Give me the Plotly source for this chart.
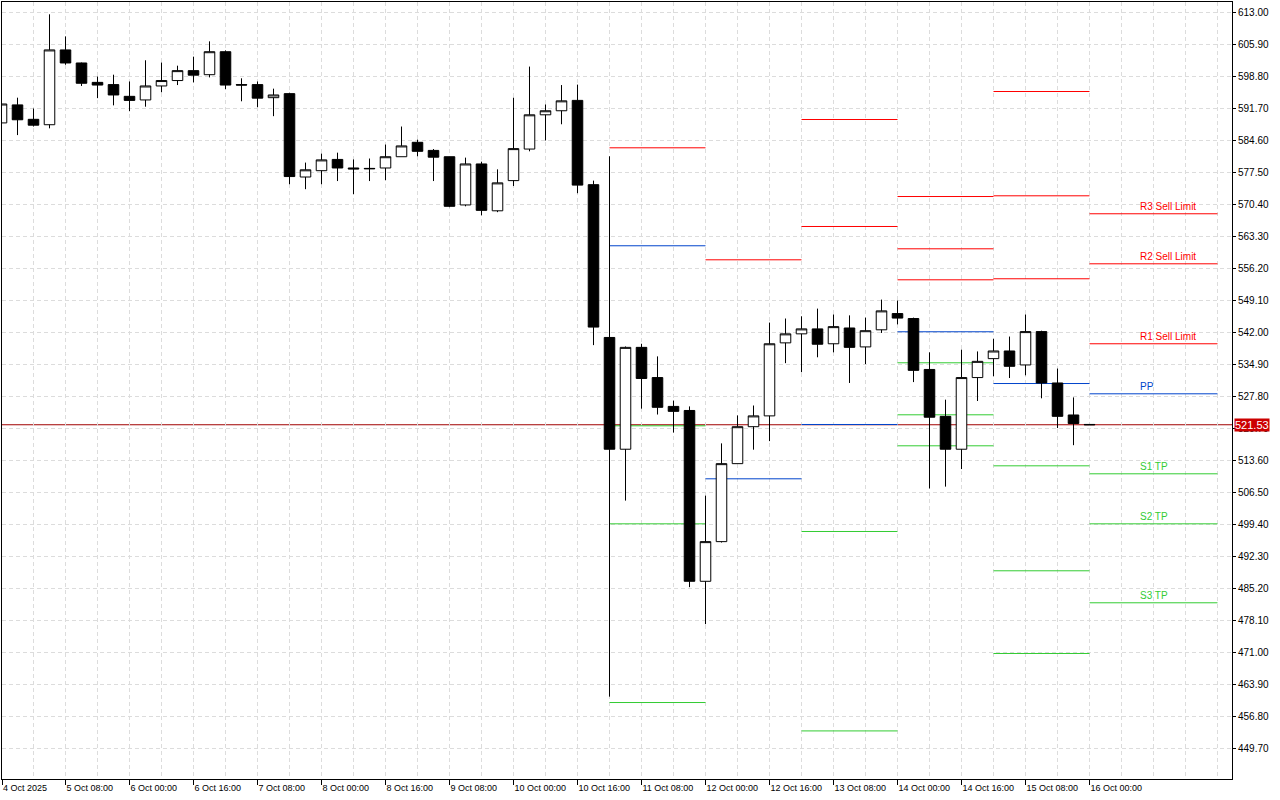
import plotly.graph_objects as go
import pandas as pd

# ---------------- data (4-hour candles) ----------------
first_bar = "2025-10-04 16:00"
opens = [588.5, 592.5, 589.3, 588.1, 604.7, 601.8, 597.5, 597.0, 594.4, 593.6,
         596.7, 597.9, 600.1, 599.2, 604.3, 597.0, 597.0, 594.1, 595.0, 576.5,
         577.9, 580.4, 578.5, 578.3, 578.5, 581.0, 584.2, 582.4, 581.0, 570.3,
         579.4, 569.0, 575.7, 582.7, 590.3, 591.2, 593.5, 574.8, 540.9, 516.1,
         538.7, 532.0, 525.6, 524.7, 486.8, 495.6, 512.9, 521.1, 523.5, 539.7,
         541.7, 542.8, 539.5, 543.0, 538.8, 542.6, 546.2, 545.1, 533.8, 523.4,
         516.1, 532.0, 536.2, 537.9, 534.8, 542.2, 530.8, 523.7, 521.6]
highs = [593.6, 594.1, 591.7, 612.6, 607.7, 601.9, 598.8, 599.2, 597.7, 602.4,
         601.9, 601.2, 603.2, 606.6, 604.6, 598.4, 597.7, 596.1, 595.2, 579.7,
         581.7, 581.9, 580.4, 580.6, 583.7, 587.7, 584.8, 582.7, 581.0, 580.8,
         579.9, 578.2, 594.1, 601.0, 592.6, 596.9, 597.0, 575.7, 581.1, 538.9,
         539.5, 536.7, 526.9, 525.6, 505.8, 517.4, 523.6, 525.8, 544.2, 545.1,
         545.6, 547.3, 546.0, 545.8, 545.3, 549.3, 549.1, 545.3, 537.6, 527.1,
         538.2, 537.8, 540.6, 541.1, 546.0, 542.4, 534.0, 527.6, 521.7]
lows = [587.9, 585.8, 587.7, 587.3, 601.4, 596.7, 594.0, 592.4, 591.1, 592.1,
        595.3, 596.9, 597.5, 598.6, 596.0, 593.3, 592.0, 590.0, 574.9, 573.8,
        574.9, 575.6, 572.7, 575.6, 575.8, 581.0, 581.1, 575.6, 569.8, 570.0,
        568.0, 568.7, 574.5, 582.2, 584.6, 588.2, 572.9, 539.2, 461.2, 504.7,
        525.1, 523.8, 519.8, 485.5, 477.3, 495.4, 512.9, 516.0, 517.9, 535.2,
        533.2, 536.5, 537.6, 530.8, 535.0, 541.9, 543.8, 531.0, 507.4, 507.8,
        511.7, 526.8, 532.3, 531.9, 532.5, 527.4, 520.8, 517.0, 521.5]
closes = [592.7, 589.2, 588.0, 604.7, 601.8, 597.3, 596.9, 594.7, 593.5, 596.7,
          597.9, 600.1, 599.1, 604.3, 596.9, 596.9, 594.0, 594.7, 576.6, 578.1,
          580.3, 578.5, 578.3, 578.4, 581.0, 583.4, 582.2, 580.9, 570.0, 579.4,
          569.1, 575.2, 582.8, 590.3, 591.2, 593.4, 574.7, 543.2, 516.1, 538.7,
          531.8, 525.4, 524.5, 486.8, 495.6, 512.9, 521.1, 523.5, 539.5, 541.7,
          542.8, 539.4, 543.3, 538.7, 542.4, 546.8, 545.2, 533.6, 523.2, 516.1,
          532.0, 535.6, 537.9, 534.5, 542.2, 530.8, 523.4, 521.8, 521.53]
current_price = 521.53

x_tick_labels = ["4 Oct 2025", "5 Oct 08:00", "6 Oct 00:00", "6 Oct 16:00",
                 "7 Oct 08:00", "8 Oct 00:00", "8 Oct 16:00", "9 Oct 08:00",
                 "10 Oct 00:00", "10 Oct 16:00", "11 Oct 08:00", "12 Oct 00:00",
                 "12 Oct 16:00", "13 Oct 08:00", "14 Oct 00:00", "14 Oct 16:00",
                 "15 Oct 08:00", "16 Oct 00:00"]
y_tick_values = [613.00, 605.90, 598.80, 591.70, 584.60, 577.50, 570.40, 563.30,
                 556.20, 549.10, 542.00, 534.90, 527.80, 520.70, 513.60, 506.50,
                 499.40, 492.30, 485.20, 478.10, 471.00, 463.90, 456.80, 449.70]

# daily classic pivot levels (None = off the visible price range)
pivot_days = ["2025-10-11", "2025-10-12", "2025-10-13", "2025-10-14",
              "2025-10-15", "2025-10-16", "2025-10-17 08:00"]
r3 = [None, None, None, 572.17, 595.47, 568.34]
r2 = [None, None, 589.26, 560.57, 572.33, 557.24]
r1 = [582.98, 558.13, 565.52, 553.69, 553.92, 539.50]
pp = [561.24, 509.54, 521.59, 542.16, 530.68, 528.40]
s1 = [521.30, None, 497.85, 535.28, 512.42, 510.65]
s2 = [499.55, None, 453.60, 523.74, 489.13, 499.55]
s3 = [459.90, None, None, 516.86, 470.78, 482.03]
level_names = ["R3 Sell Limit", "R2 Sell Limit", "R1 Sell Limit", "PP",
               "S1 TP", "S2 TP", "S3 TP"]
label_time = "2025-10-16 12:00"

# ---------------- styling ----------------
RED = "#ff0000"
BLUE = "#0044cc"
GREEN = "#33cc33"
GRID = "#dcdcdc"
FONT = "Liberation Sans, Arial, sans-serif"
BAR = pd.Timedelta(hours=4)

times = pd.date_range(first_bar, periods=len(opens), freq="4h")
t0 = times[0]
x_start = t0 + BAR * 0.03125
x_end = x_start + BAR * (1230 / 16)

tick_times = [x_start] + [times[i] for i in range(4, len(times), 4)]
grid_times = [t0 + BAR * k for k in range(2, 78, 2)]

fig = go.Figure()
fig.add_trace(go.Candlestick(
    x=times, open=opens, high=highs, low=lows, close=closes,
    increasing=dict(fillcolor="white", line=dict(color="black", width=1)),
    decreasing=dict(fillcolor="black", line=dict(color="black", width=1)),
    whiskerwidth=0, hoverinfo="skip", showlegend=False,
))

levels = [r3, r2, r1, pp, s1, s2, s3]
colors = [RED, RED, RED, BLUE, GREEN, GREEN, GREEN]
shapes = []
for lvl, col in zip(levels, colors):
    for d, val in enumerate(lvl):
        if val is None:
            continue
        shapes.append(dict(type="line", xref="x", yref="y", layer="between",
                           x0=pivot_days[d], x1=pivot_days[d + 1], y0=val, y1=val,
                           line=dict(color=col, width=1)))
shapes.append(dict(type="line", xref="paper", yref="y", layer="between",
                   x0=0, x1=1, y0=current_price, y1=current_price,
                   line=dict(color="#a00000", width=1)))

annotations = []
for name, lvl, col in zip(level_names, levels, colors):
    annotations.append(dict(x=label_time, y=lvl[-1], xref="x", yref="y",
                            text=name, showarrow=False, xanchor="left",
                            yanchor="bottom", yshift=0,
                            font=dict(family=FONT, size=10, color=col)))
annotations.append(dict(x=1, y=current_price, xref="paper", yref="y",
                        text=f"{current_price:.2f}", showarrow=False,
                        xanchor="left", yanchor="middle", xshift=2,
                        bgcolor="#cc0000", borderpad=0,
                        font=dict(family=FONT, size=11, color="white")))

ymax = 613.0 + 10.5 * (7.1 / 32)
ymin = ymax - 777 * (7.1 / 32)

fig.update_layout(
    width=1280, height=800,
    margin=dict(l=2, r=48, t=2, b=21),
    paper_bgcolor="white", plot_bgcolor="white",
    hovermode=False, showlegend=False,
    boxgap=0.34, boxgroupgap=0,
    shapes=shapes, annotations=annotations,
    font=dict(family=FONT, color="black"),
)
fig.update_xaxes(
    type="date", range=[x_start, x_end], rangeslider=dict(visible=False),
    tickmode="array", tickvals=tick_times, ticktext=x_tick_labels,
    ticks="outside", ticklen=5, tickcolor="black", tickwidth=1,
    ticklabelposition="outside right",
    tickfont=dict(family=FONT, size=9, color="black"),
    showgrid=False, zeroline=False,
    minor=dict(tickmode="array", tickvals=grid_times, showgrid=True,
               gridcolor=GRID, griddash="4px,3px", gridwidth=1, ticks=""),
    showline=True, linecolor="black", linewidth=1, mirror=True,
)
fig.update_yaxes(
    range=[ymin, ymax], side="right",
    tickmode="array", tickvals=y_tick_values,
    ticktext=[f"{v:.2f}" for v in y_tick_values],
    ticks="outside", ticklen=3, tickcolor="black", tickwidth=1,
    tickfont=dict(family=FONT, size=10, color="black"),
    showgrid=True, gridcolor=GRID, griddash="4px,3px", gridwidth=1,
    zeroline=False,
    showline=True, linecolor="black", linewidth=1, mirror=True,
)

fig.write_html("out.html", config={"displayModeBar": False},
               post_script="document.body.style.margin='0';document.body.style.overflow='hidden';")
